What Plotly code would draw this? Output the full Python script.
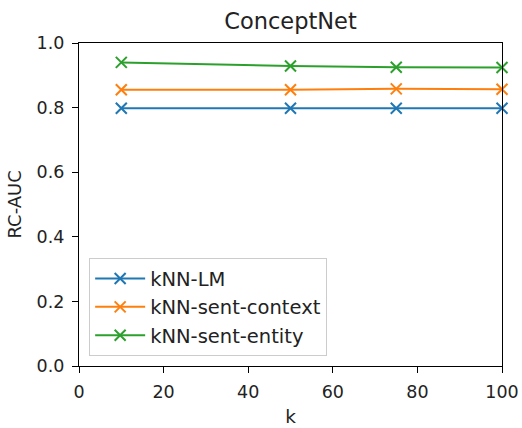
import plotly.graph_objects as go

k = [10, 50, 75, 100]
knn_lm = [0.798, 0.798, 0.798, 0.798]
knn_sent_context = [0.855, 0.855, 0.858, 0.857]
knn_sent_entity = [0.940, 0.929, 0.925, 0.924]

series = [
    ("kNN-LM", knn_lm, "#1f77b4"),
    ("kNN-sent-context", knn_sent_context, "#ff7f0e"),
    ("kNN-sent-entity", knn_sent_entity, "#2ca02c"),
]

fig = go.Figure()
for name, vals, col in series:
    fig.add_trace(go.Scatter(
        x=k, y=vals, name=name, mode="lines+markers",
        line=dict(color=col, width=2),
        marker=dict(symbol="x-thin", size=11, line=dict(color=col, width=2)),
        cliponaxis=False,
    ))

axis_common = dict(
    showline=True, linecolor="black", linewidth=1.3, mirror=True,
    ticks="outside", ticklen=6, tickcolor="black", showgrid=False,
    zeroline=False, tickfont=dict(size=17.5, color="#222"), ticklabelstandoff=4,
    automargin=False,
)

fig.update_layout(
    width=522, height=428,
    margin=dict(l=79, r=20, t=43, b=62),
    paper_bgcolor="white", plot_bgcolor="white",
    font=dict(family="DejaVu Sans", color="#222"),
    title=dict(text="ConceptNet", x=0.5, xref="paper", xanchor="center", y=0.951, yanchor="middle",
               font=dict(size=22.5, color="#222"), automargin=False),
    xaxis=dict(range=[0, 100], tickvals=[0, 20, 40, 60, 80, 100],
               title=dict(text="k", font=dict(size=18.5), standoff=8), **axis_common),
    yaxis=dict(range=[0, 1.0], tickvals=[0, 0.2, 0.4, 0.6, 0.8, 1.0],
               ticktext=["0.0", "0.2", "0.4", "0.6", "0.8", "1.0"], **axis_common),
    legend=dict(x=0.024, y=0.03, xanchor="left", yanchor="bottom",
                bordercolor="#cccccc", borderwidth=1, bgcolor="rgba(255,255,255,0.8)",
                font=dict(size=19.5, color="#222"), tracegroupgap=0, itemwidth=50),
    showlegend=True,
    annotations=[dict(text="RC-AUC", xref="paper", yref="paper",
                      x=(14 - 79) / 423, y=0.5, textangle=-90, showarrow=False,
                      xanchor="center", yanchor="middle", font=dict(size=18, color="#222"))],
)

fig.write_html("out.html")
